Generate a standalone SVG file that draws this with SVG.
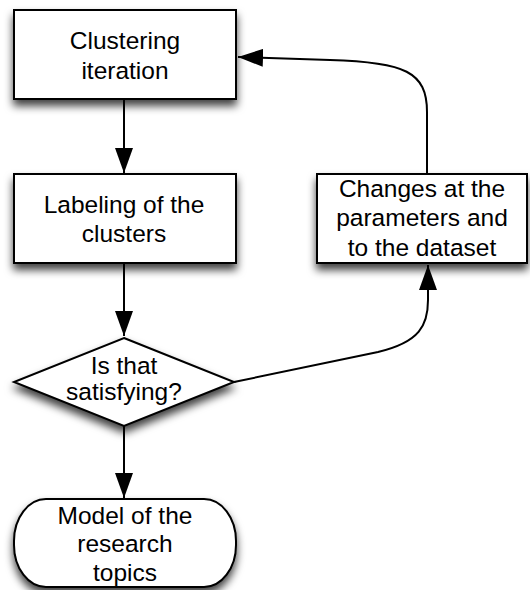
<svg xmlns="http://www.w3.org/2000/svg" width="530" height="590" viewBox="0 0 530 590">
  <style>
    .shape { fill: #ffffff; stroke: #000000; stroke-width: 2; filter: url(#shadow); }
    .label { font-family: "Liberation Sans", Arial, Helvetica, sans-serif; font-size: 24.5px; fill: #000000; text-anchor: middle; }
    .edge { fill: none; stroke: #000000; stroke-width: 2; marker-end: url(#arrow); }
  </style>
  <defs>
    <filter id="shadow" x="-20%" y="-20%" width="140%" height="170%">
      <feDropShadow dx="0" dy="6" stdDeviation="4.5" flood-color="#000000" flood-opacity="0.75"/>
    </filter>
    <marker id="arrow" viewBox="0 0 25 18" refX="25" refY="9" markerWidth="25" markerHeight="18" markerUnits="userSpaceOnUse" orient="auto">
      <path d="M0,0 L25,9 L0,18 Z" fill="#000000"/>
    </marker>
  </defs>

  <!-- connectors -->
  <g id="connectors">
    <path class="edge" d="M124,99 L124,173"/>
    <path class="edge" d="M124,263 L124,336"/>
    <path class="edge" d="M124,426 L124,498"/>
    <path class="edge" d="M234,382 L378,352 C420,342 428,325 428,300 L428,265"/>
    <path class="edge" d="M427,174 L427,112 C427,72 405,62 330,60 L238,57"/>
  </g>

  <g id="clustering-iteration">
    <rect class="shape" x="14" y="10" width="222" height="89"/>
    <text class="label" x="125" y="49">Clustering</text>
    <text class="label" x="125" y="79">iteration</text>
  </g>

  <g id="labeling">
    <rect class="shape" x="14" y="174" width="222" height="89"/>
    <text class="label" x="124" y="213">Labeling of the</text>
    <text class="label" x="124" y="242">clusters</text>
  </g>

  <g id="changes">
    <rect class="shape" x="317" y="174" width="210" height="89"/>
    <text class="label" x="422" y="197">Changes at the</text>
    <text class="label" x="422" y="226">parameters and</text>
    <text class="label" x="422" y="256">to the dataset</text>
  </g>

  <g id="decision">
    <polygon class="shape" points="124,338 234,382 124,426 14,382"/>
    <text class="label" x="124" y="374">Is that</text>
    <text class="label" x="124" y="400">satisfying?</text>
  </g>

  <g id="model">
    <rect class="shape" x="14" y="499" width="222" height="88" rx="32" ry="42"/>
    <text class="label" x="125" y="524">Model of the</text>
    <text class="label" x="125" y="552">research</text>
    <text class="label" x="125" y="581">topics</text>
  </g>
</svg>
